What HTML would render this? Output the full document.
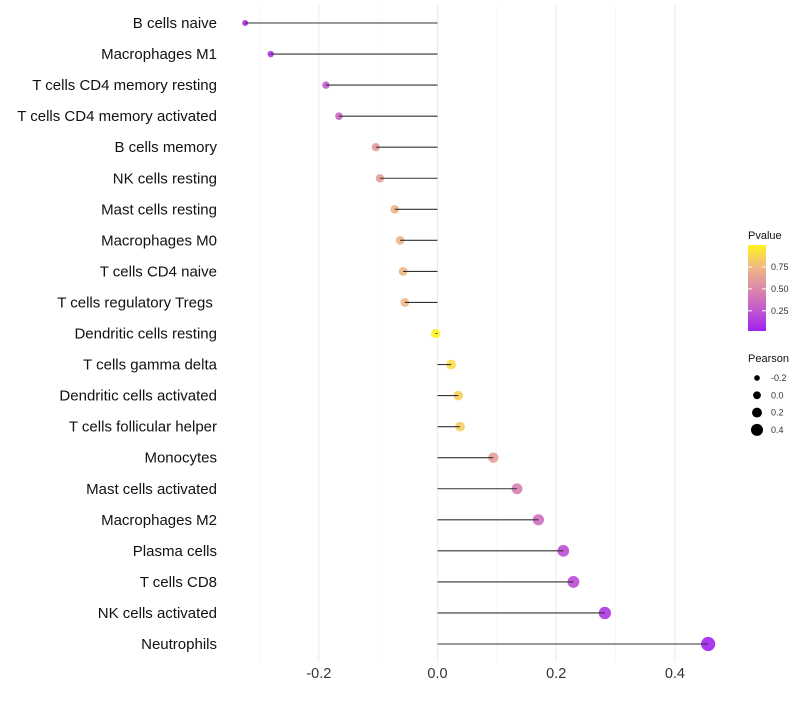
<!DOCTYPE html>
<html><head><meta charset="utf-8"><style>
body{margin:0;background:#fff;font-family:"Liberation Sans",sans-serif;}
</style></head><body>
<svg id="chart" width="800" height="700" font-family="Liberation Sans, sans-serif"></svg>
<script>
const categories=["B cells naive","Macrophages M1","T cells CD4 memory resting","T cells CD4 memory activated","B cells memory","NK cells resting","Mast cells resting","Macrophages M0","T cells CD4 naive","T cells regulatory  Tregs\u00a0","Dendritic cells resting","T cells gamma delta","Dendritic cells activated","T cells follicular helper","Monocytes","Mast cells activated","Macrophages M2","Plasma cells","T cells CD8","NK cells activated","Neutrophils"];
const pearson=[-0.324,-0.281,-0.188,-0.166,-0.104,-0.097,-0.072,-0.063,-0.058,-0.055,-0.003,0.023,0.035,0.038,0.094,0.134,0.170,0.212,0.229,0.282,0.456];
const pvalue=[0.05,0.08,0.25,0.3,0.6,0.6,0.72,0.72,0.73,0.74,0.99,0.9,0.84,0.83,0.62,0.45,0.35,0.2,0.18,0.1,0.02];
const xTicks=[-0.2,0.0,0.2,0.4];
const pTicks=[0.25,0.5,0.75];
const sizeTicks=[-0.2,0.0,0.2,0.4];

const NS="http://www.w3.org/2000/svg";
const svg=document.getElementById('chart');
function mk(t,a,p){const e=document.createElementNS(NS,t);for(const k in a)e.setAttribute(k,a[k]);(p||svg).appendChild(e);return e;}
const x=v=>437.5+v*593.5;
const y=i=>23+i*31.05;
const r=v=>4.7+v*5.3;
const stops=[[0,[160,32,240]],[0.25,[196,90,206]],[0.5,[220,138,168]],[0.75,[240,186,130]],[1,[255,244,32]]];
function col(p){for(let i=1;i<stops.length;i++){if(p<=stops[i][0]){const a=stops[i-1],b=stops[i];const t=(p-a[0])/(b[0]-a[0]);const c=a[1].map((v,k)=>Math.round(v+(b[1][k]-v)*t));return `rgb(${c})`;}}return 'rgb(255,244,32)';}
[-0.3,-0.1,0.1,0.3].forEach(v=>{mk('line',{x1:x(v),x2:x(v),y1:5,y2:662,stroke:'#f3f3f3','stroke-width':0.6});});
xTicks.forEach(v=>{
 const g=mk('line',{x1:x(v),x2:x(v),y1:5,y2:662,stroke:'#ebebeb','stroke-width':1.1});
 
 const t=mk('text',{x:x(v),y:678,'text-anchor':'middle','font-size':14.5,fill:'#333'});t.textContent=v.toFixed(1);
 
});
categories.forEach((c,i)=>{
 const t=mk('text',{x:217,y:y(i)+5,'text-anchor':'end','font-size':15,fill:'#111'});t.textContent=c;
 t.setAttribute('xml:space','preserve');
 
});
categories.forEach((c,i)=>{
 const d=mk('circle',{cx:x(pearson[i]),cy:y(i),r:r(pearson[i]),fill:col(pvalue[i]),'fill-opacity':0.9});
 
});
categories.forEach((c,i)=>{
 const l=mk('line',{x1:x(0),x2:x(pearson[i]),y1:y(i),y2:y(i),stroke:'#333','stroke-width':1.1});
 
});
const defs=mk('defs',{});const lg=mk('linearGradient',{id:'pg',x1:0,y1:1,x2:0,y2:0},defs);
stops.forEach(s=>mk('stop',{offset:s[0],'stop-color':col(s[0])},lg));
let t=mk('text',{x:748,y:239,'font-size':11,fill:'#111'});t.textContent='Pvalue';

const bar=mk('rect',{x:748,y:245,width:18,height:86,fill:'url(#pg)'});

const py=p=>331-(p-0.02)/0.98*86;
pTicks.forEach(p=>{
 mk('line',{x1:748,x2:752,y1:py(p),y2:py(p),stroke:'#fff'});mk('line',{x1:762,x2:766,y1:py(p),y2:py(p),stroke:'#fff'});
 const tt=mk('text',{x:771,y:py(p)+3,'font-size':9,fill:'#333'});tt.textContent=p.toFixed(2);
 
});
t=mk('text',{x:748,y:362,'font-size':11,fill:'#111'});t.textContent='Pearson';

sizeTicks.forEach((s,i)=>{
 const cy=378+i*17.3;
 const c=mk('circle',{cx:757,cy:cy,r:r(s)-0.8,fill:'#000'});
 
 const tt=mk('text',{x:771,y:cy+3,'font-size':9,fill:'#333'});tt.textContent=s.toFixed(1);
 
});
</script>
</body></html>
